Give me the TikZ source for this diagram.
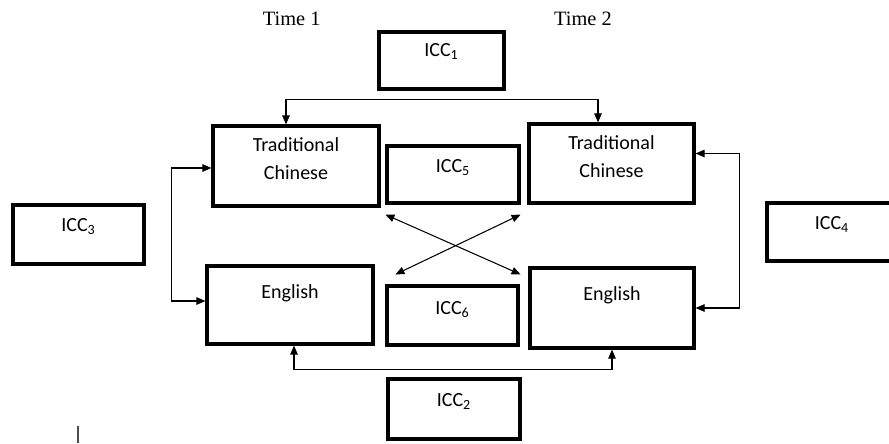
\documentclass[tikz,border=0pt]{standalone}
\usepackage{fontspec}
\setmainfont{Carlito}
\newfontfamily\timesfont{Liberation Serif}
\usetikzlibrary{arrows.meta,calc}

\begin{document}
\begin{tikzpicture}[x=0.02cm,y=-0.02cm]
  \def\px{0.02cm}
  \tikzset{
    box/.style={draw, line width=1.8pt, inner sep=0pt},
    boxtext/.style={anchor=north, inner sep=0pt, align=center,
      font=\fontsize{11.4}{16}\selectfont},
    conn/.style={{Triangle[length=0.18cm,width=0.15cm]}-{Triangle[length=0.18cm,width=0.15cm]},
      line width=0.6pt},
    timelabel/.style={anchor=base, font=\timesfont\fontsize{11.6}{13}\selectfont}
  }
  \useasboundingbox (0,0) rectangle (889,443);
  \clip (0,0) rectangle (889,443);

  % Time headings
  \node[timelabel] (time1) at (291.7,25) {Time 1};
  \node[timelabel] (time2) at (583,25) {Time 2};

  % Boxes
  \node[box, minimum width=125*\px, minimum height=57*\px,
    label={[boxtext, yshift=-13*\px]north:ICC\textsubscript{1}}] (icc1) at (441.5,60.5) {};

  \node[box, minimum width=166*\px, minimum height=80*\px,
    label={[boxtext, yshift=-13*\px]north:Traditional\\Chinese}] (tcA) at (296,166) {};
  \node[box, minimum width=165*\px, minimum height=79*\px,
    label={[boxtext, yshift=-13*\px]north:Traditional\\Chinese}] (tcB) at (611.5,163.5) {};

  \node[box, minimum width=132*\px, minimum height=57*\px,
    label={[boxtext, yshift=-15*\px]north:ICC\textsubscript{5}}] (icc5) at (453,174.5) {};

  \node[box, minimum width=131*\px, minimum height=59*\px,
    label={[boxtext, yshift=-15*\px]north:ICC\textsubscript{3}}] (icc3) at (78.5,234.5) {};
  \node[box, minimum width=130*\px, minimum height=58*\px,
    label={[boxtext, yshift=-15*\px]north:ICC\textsubscript{4}}] (icc4) at (832,232) {};

  \node[box, minimum width=166*\px, minimum height=78*\px,
    label={[boxtext, yshift=-20*\px]north:English}] (enA) at (290,305) {};
  \node[box, minimum width=164*\px, minimum height=80*\px,
    label={[boxtext, yshift=-20*\px]north:English}] (enB) at (612,308) {};

  \node[box, minimum width=131*\px, minimum height=59*\px,
    label={[boxtext, yshift=-17*\px]north:ICC\textsubscript{6}}] (icc6) at (452.5,315.5) {};

  \node[box, minimum width=132*\px, minimum height=60*\px,
    label={[boxtext, yshift=-16*\px]north:ICC\textsubscript{2}}] (icc2) at (454,409) {};

  % Connectors
  \draw[conn] ($(tcA.north)+(-10,0)$) -- ++(0,-25) -| ($(tcB.north)+(-13.5,0)$);
  \draw[conn] ($(tcA.west)+(0,2)$) -- ++(-40,0) |- ($(enA.west)+(0,-4)$);
  \draw[conn] ($(tcB.east)+(0,-10)$) -- ++(44,0) |- (enB.east);
  \draw[conn] ($(enA.south)+(4,0)$) -- ++(0,24) -| (enB.south);
  \draw[conn] ($(icc5.south west)+(0,10)$) -- ($(icc6.north east)+(1,-10)$);
  \draw[conn] ($(icc5.south east)+(0,10)$) -- ($(icc6.north west)+(10,-10)$);

  % stray mark
  \draw[line width=0.7pt, black!70] (78,426) -- (78,443);
\end{tikzpicture}
\end{document}
